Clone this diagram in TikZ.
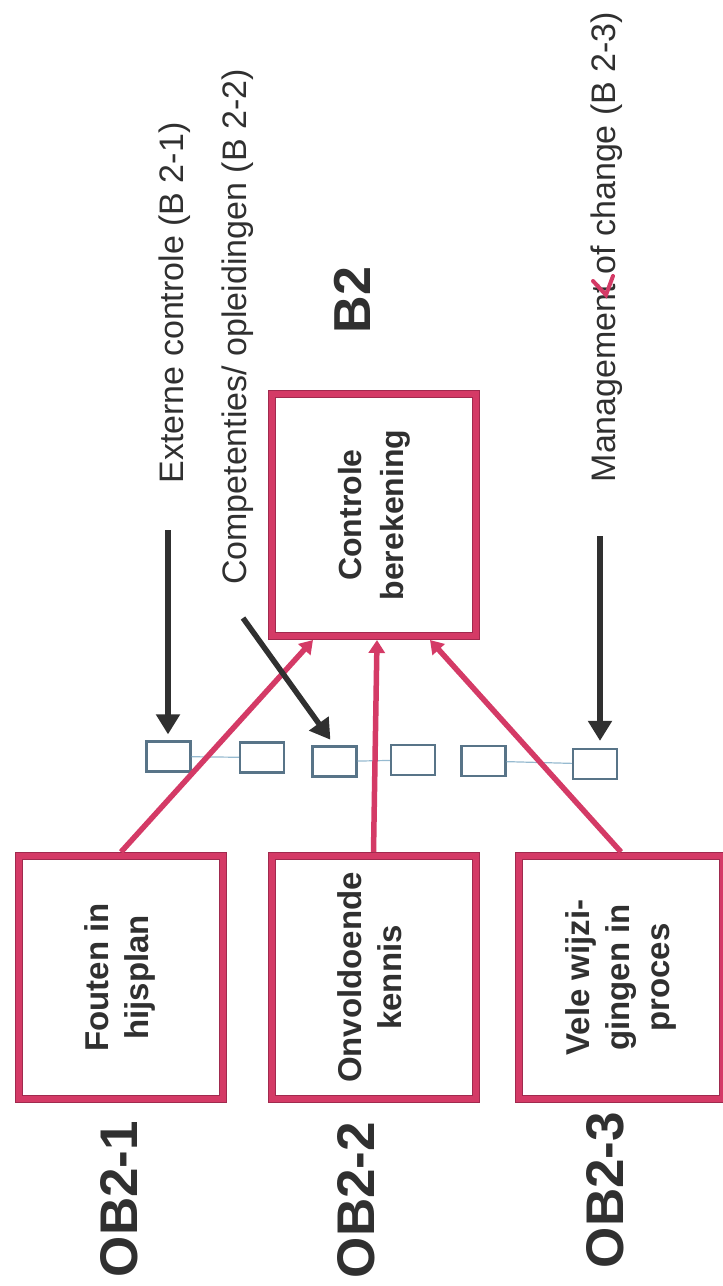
\documentclass[tikz,border=0pt]{standalone}
\usepackage{fontspec}
\setmainfont{Liberation Sans}
\usetikzlibrary{arrows.meta}

\definecolor{pinkline}{RGB}{212,58,102}
\definecolor{pinkedge}{RGB}{160,42,78}
\definecolor{inkgrey}{RGB}{48,48,48}
\definecolor{stepblue}{RGB}{88,116,136}
\definecolor{linkblue}{RGB}{150,186,208}

\newcommand{\turned}[1]{\rotatebox{90}{\begin{tabular}{@{}c@{}}#1\end{tabular}}}

\begin{document}
\begin{tikzpicture}[x=1pt, y=-1pt,
	causebox/.style={draw=pinkedge, double=pinkline, double distance=6pt, line width=1pt,
		outer sep=4pt, fill=white, inner sep=0pt, minimum width=204pt, minimum height=243pt,
		text=inkgrey, font=\bfseries\fontsize{33}{40}\selectfont},
	stepbox/.style={draw=stepblue, line width=2.2pt, fill=white, minimum width=44pt,
		minimum height=30pt, inner sep=0pt},
	sidelabel/.style={rotate=90, inner sep=0pt, text=inkgrey, font=\fontsize{34}{40}\selectfont},
	codelabel/.style={rotate=90, inner sep=0pt, text=inkgrey, font=\bfseries\fontsize{53}{60}\selectfont},
	pinkarrow/.style={draw=pinkline, line width=5.5pt, -{Triangle[width=16pt,length=13pt]}},
	barrier/.style={draw=inkgrey, line width=5.5pt, -{Triangle[width=23pt,length=20pt]}}]
	\useasboundingbox (0,0) rectangle (723,1286);

	% labels
	\node[sidelabel] (E) at (175, 303){Externe controle (B 2-1)};
	\node[sidelabel] (K) at (238, 327){Competenties/ opleidingen (B 2-2)};
	\node[sidelabel] (M) at (607, 247){Management of change (B 2-3)};
	\node[codelabel, font=\bfseries\fontsize{52}{60}\selectfont] (B2) at (352, 300){B2};
	\draw[pinkline, line width=4pt, line cap=round] (593, 281) -- (606, 295) -- (613, 276);

	% top event and causes
	\node[causebox, minimum height=242pt, font=\bfseries\fontsize{32}{42}\selectfont] (C) at (374, 515){\turned{Controle\\berekening}};
	\node[causebox] (F1) at (121, 977.5){\turned{Fouten in\\hijsplan}};
	\node[causebox] (F2) at (373.5, 977.5){\turned{Onvoldoende\\kennis}};
	\node[causebox] (F3) at (621, 977.5){\turned{Vele wijzi-\\gingen in\\proces}};
	\node[codelabel] (L1) at (119, 1199){OB2-1};
	\node[codelabel] (L2) at (356, 1200){OB2-2};
	\node[codelabel] (L3) at (605, 1190){OB2-3};

	% barrier row
	\node[stepbox] (S1) at (168.5, 756.5){};
	\node[stepbox] (S2) at (262, 757.5){};
	\node[stepbox] (S3) at (334.5, 761.5){};
	\node[stepbox] (S4) at (413, 760){};
	\node[stepbox] (S5) at (483.5, 761){};
	\node[stepbox] (S6) at (595, 764){};
	\draw[linkblue, line width=1.2pt] (S1) -- (S2);
	\draw[linkblue, line width=1.2pt] (S3) -- (S4);
	\draw[linkblue, line width=1.2pt] (S5) -- (S6);

	\draw[pinkarrow] (F1.north) -- ([xshift=-61pt]C.south);
	\draw[pinkarrow] (F2.north) -- ([xshift=3pt]C.south);
	\draw[pinkarrow] (F3.north) -- ([xshift=56pt]C.south);

	\coordinate (A1) at (168, 530);
	\coordinate (A2) at (243, 618);
	\coordinate (A3) at (600, 536);
	\draw[barrier, shorten >=6pt] (A1) -- (A1 |- S1.north);
	\draw[barrier, shorten >=7pt] (A2) -- (S3.north);
	\draw[barrier, shorten >=7pt] (A3) -- (A3 |- S6.north);
\end{tikzpicture}
\end{document}
